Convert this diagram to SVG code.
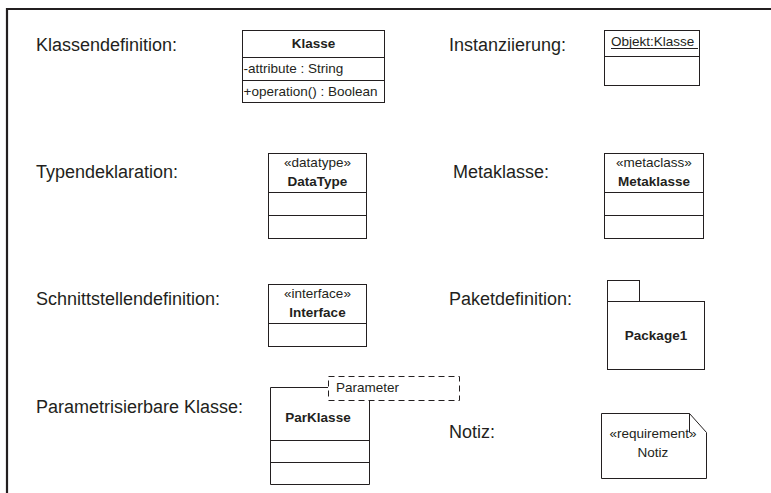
<svg xmlns="http://www.w3.org/2000/svg" width="771" height="493" viewBox="0 0 771 493">
  <style>
    .frame { fill: none; stroke: #231f20; stroke-width: 2.2; }
    .box { fill: #ffffff; stroke: #231f20; stroke-width: 1; }
    .ln { fill: none; stroke: #231f20; stroke-width: 1; }
    .dash { fill: #ffffff; stroke: #231f20; stroke-width: 1; stroke-dasharray: 6 4; }
    .label { font-family: "Liberation Sans", Arial, sans-serif; font-size: 18px; fill: #231f20; }
    .txt { font-family: "Liberation Sans", Arial, sans-serif; font-size: 13.5px; fill: #231f20; }
    .bold { font-weight: bold; }
    .mid { text-anchor: middle; }
  </style>

  <!-- outer frame (top and left edges) -->
  <path class="frame" d="M7,493 V9 H771"/>

  <!-- row labels -->
  <g id="labels">
    <text class="label" x="36" y="51">Klassendefinition:</text>
    <text class="label" x="449" y="51">Instanziierung:</text>
    <text class="label" x="36" y="178">Typendeklaration:</text>
    <text class="label" x="453" y="178">Metaklasse:</text>
    <text class="label" x="36" y="305">Schnittstellendefinition:</text>
    <text class="label" x="449" y="305">Paketdefinition:</text>
    <text class="label" x="36" y="413">Parametrisierbare Klasse:</text>
    <text class="label" x="449" y="438">Notiz:</text>
  </g>

  <!-- class with attribute and operation -->
  <g id="klasse">
    <rect class="box" x="242.5" y="30.5" width="142" height="72"/>
    <line class="ln" x1="242.5" y1="57.5" x2="384.5" y2="57.5"/>
    <line class="ln" x1="242.5" y1="80.5" x2="384.5" y2="80.5"/>
    <text class="txt bold mid" x="313.5" y="48">Klasse</text>
    <text class="txt" x="243.5" y="73">-attribute : String</text>
    <text class="txt" x="243.5" y="96">+operation() : Boolean</text>
  </g>

  <!-- object instance -->
  <g id="objekt">
    <rect class="box" x="604.5" y="30.5" width="95" height="55"/>
    <line class="ln" x1="604.5" y1="56.5" x2="699.5" y2="56.5"/>
    <text class="txt" x="611" y="46">Objekt:Klasse</text>
    <line class="ln" x1="611" y1="48.5" x2="698" y2="48.5"/>
  </g>

  <!-- datatype -->
  <g id="datatype">
    <rect class="box" x="268.5" y="153.5" width="98" height="85"/>
    <line class="ln" x1="268.5" y1="192.5" x2="366.5" y2="192.5"/>
    <line class="ln" x1="268.5" y1="215.5" x2="366.5" y2="215.5"/>
    <text class="txt mid" x="317.5" y="167">«datatype»</text>
    <text class="txt bold mid" x="317.5" y="186">DataType</text>
  </g>

  <!-- metaclass -->
  <g id="metaklasse">
    <rect class="box" x="604.5" y="153.5" width="99" height="85"/>
    <line class="ln" x1="604.5" y1="192.5" x2="703.5" y2="192.5"/>
    <line class="ln" x1="604.5" y1="215.5" x2="703.5" y2="215.5"/>
    <text class="txt mid" x="654" y="167">«metaclass»</text>
    <text class="txt bold mid" x="654" y="186">Metaklasse</text>
  </g>

  <!-- interface -->
  <g id="interface">
    <rect class="box" x="268.5" y="284.5" width="98" height="62"/>
    <line class="ln" x1="268.5" y1="323.5" x2="366.5" y2="323.5"/>
    <text class="txt mid" x="317.5" y="298">«interface»</text>
    <text class="txt bold mid" x="317.5" y="317">Interface</text>
  </g>

  <!-- package -->
  <g id="package">
    <rect class="box" x="607.5" y="280.5" width="32" height="21"/>
    <rect class="box" x="607.5" y="301.5" width="97" height="68"/>
    <text class="txt bold mid" x="656" y="340">Package1</text>
  </g>

  <!-- parameterised class -->
  <g id="parklasse">
    <path class="ln" d="M328,387.5 H270.5 V484.5 H369.5 V400"/>
    <line class="ln" x1="270.5" y1="440.5" x2="369.5" y2="440.5"/>
    <line class="ln" x1="270.5" y1="462.5" x2="369.5" y2="462.5"/>
    <text class="txt bold mid" x="318" y="422">ParKlasse</text>
    <rect class="dash" x="328.5" y="376.5" width="131" height="24"/>
    <text class="txt" x="336" y="392">Parameter</text>
  </g>

  <!-- note -->
  <g id="notiz">
    <path class="box" d="M601.5,413.5 H689.5 L706.5,432.5 V478.5 H601.5 Z"/>
    <path class="ln" d="M689.5,413.5 V432.5"/>
    <text class="txt mid" x="653" y="438">«requirement»</text>
    <text class="txt mid" x="653" y="457">Notiz</text>
  </g>
</svg>
